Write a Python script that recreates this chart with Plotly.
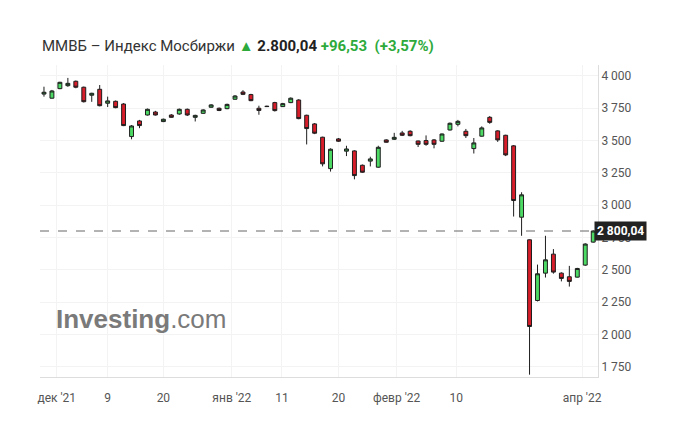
import plotly.graph_objects as go

# daily candles, index 0 = 29 Nov 2021 (trading days only)
opens = [3860, 3828, 3902, 3925, 3959, 3913, 3851, 3897, 3789, 3804,
         3783, 3531, 3652, 3698, 3721, 3647, 3698, 3706, 3742, 3680,
         3711, 3758, 3750, 3747, 3820, 3876, 3856, 3750, 3763, 3794,
         3763, 3794, 3814, 3696, 3629, 3526, 3283, 3513, 3418, 3420,
         3309, 3341, 3294, 3505, 3510, 3559, 3572, 3497, 3500, 3505,
         3495, 3582, 3626, 3572, 3438, 3534, 3680, 3575, 3541, 3459,
         2907, 2732, 2262, 2474, 2621, 2474, 2446, 2443, 2536, 2714]
closes = [3874, 3884, 3951, 3943, 3913, 3801, 3866, 3770, 3807, 3755,
          3616, 3613, 3616, 3742, 3698, 3665, 3680, 3742, 3698, 3695,
          3737, 3776, 3733, 3780, 3845, 3858, 3809, 3733, 3765, 3732,
          3786, 3828, 3670, 3593, 3557, 3320, 3433, 3495, 3435, 3229,
          3255, 3358, 3448, 3487, 3525, 3541, 3538, 3471, 3471, 3471,
          3551, 3634, 3649, 3538, 3482, 3598, 3641, 3505, 3389, 3036,
          3080, 2061, 2469, 2577, 2482, 2433, 2410, 2510, 2699, 2800.04]
highs = [3917, 3892, 3955, 3985, 3965, 3918, 3870, 3930, 3840, 3810,
         3790, 3620, 3660, 3748, 3730, 3670, 3705, 3748, 3748, 3700,
         3742, 3782, 3756, 3786, 3852, 3890, 3862, 3770, 3770, 3800,
         3792, 3834, 3820, 3700, 3636, 3530, 3440, 3520, 3460, 3425,
         3315, 3375, 3460, 3510, 3560, 3575, 3580, 3500, 3540, 3512,
         3555, 3640, 3660, 3590, 3520, 3610, 3690, 3580, 3545, 3465,
         3100, 2735, 2540, 2763, 2660, 2480, 2530, 2515, 2705, 2805]
lows = [3840, 3825, 3898, 3916, 3905, 3795, 3800, 3765, 3760, 3750,
        3612, 3510, 3596, 3694, 3694, 3643, 3676, 3700, 3690, 3648,
        3707, 3754, 3728, 3743, 3816, 3852, 3805, 3700, 3760, 3725,
        3760, 3790, 3665, 3470, 3550, 3300, 3260, 3490, 3380, 3200,
        3250, 3300, 3290, 3484, 3505, 3535, 3533, 3450, 3460, 3440,
        3490, 3578, 3610, 3520, 3400, 3530, 3630, 3490, 3380, 2912,
        2763, 1688, 2255, 2440, 2470, 2410, 2370, 2440, 2530, 2710]

idx = list(range(len(opens)))
tick_pos = [1.6, 8, 15, 23.6, 29.9, 37, 44.3, 51.8, 67.6]
tick_text = ["дек '21", "9", "20", "янв '22", "11", "20", "февр '22", "10", "апр '22"]
y_ticks = [1750, 2000, 2250, 2500, 2750, 3000, 3250, 3500, 3750, 4000]
last_price = 2800.04

fig = go.Figure(go.Candlestick(
    x=idx, open=opens, high=highs, low=lows, close=closes,
    increasing=dict(fillcolor='#4cd964', line=dict(color='#1e1e1e', width=1)),
    decreasing=dict(fillcolor='#d71d2a', line=dict(color='#1e1e1e', width=1)),
    whiskerwidth=0, showlegend=False, hoverinfo='skip'
))

fig.add_hline(y=last_price, line=dict(color='#666', width=1, dash='dash'))

fig.add_annotation(x=1, xref='paper', y=last_price, yref='y', xanchor='left',
                   text='<b>2 800,04</b>', showarrow=False, bgcolor='#222',
                   font=dict(color='white', size=12), borderpad=2, xshift=-4)

fig.add_annotation(x=0.025, xref='paper', y=0.13, yref='paper', xanchor='left',
                   text='<b>Investing</b>.com', showarrow=False,
                   font=dict(color='#7a7a7a', size=26, family='Arial'))

fig.add_annotation(x=0, xref='paper', y=1.025, yref='paper', xanchor='left', yanchor='bottom',
                   showarrow=False,
                   text=("<span style='color:#333'>ММВБ – Индекс Мосбиржи</span> "
                         "<span style='color:#2eaa3c'>▲</span> <b>2.800,04</b> "
                         "<span style='color:#2eaa3c'><b>+96,53  (+3,57%)</b></span>"),
                   font=dict(size=15, color='#222', family='Roboto'))

fig.update_layout(
    width=683, height=441, margin=dict(l=32, r=93, t=57, b=72),
    paper_bgcolor='white', plot_bgcolor='white',
    font=dict(family='Roboto', size=12, color='#555'),
    xaxis=dict(range=[-0.5, 69.6], tickvals=tick_pos, ticktext=tick_text,
               showgrid=True, gridcolor='#f3f3f3', rangeslider=dict(visible=False),
               showline=True, linecolor='#ddd', ticks='', zeroline=False,
               ticklabelstandoff=10),
    yaxis=dict(side='right', range=[1670, 4085], tickvals=y_ticks,
               ticktext=[f"{v:,}".replace(',', ' ') for v in y_ticks],
               showgrid=True, gridcolor='#f3f3f3', showline=True, linecolor='#ddd',
               zeroline=False, ticks=''),
)

fig.write_html("out.html")
